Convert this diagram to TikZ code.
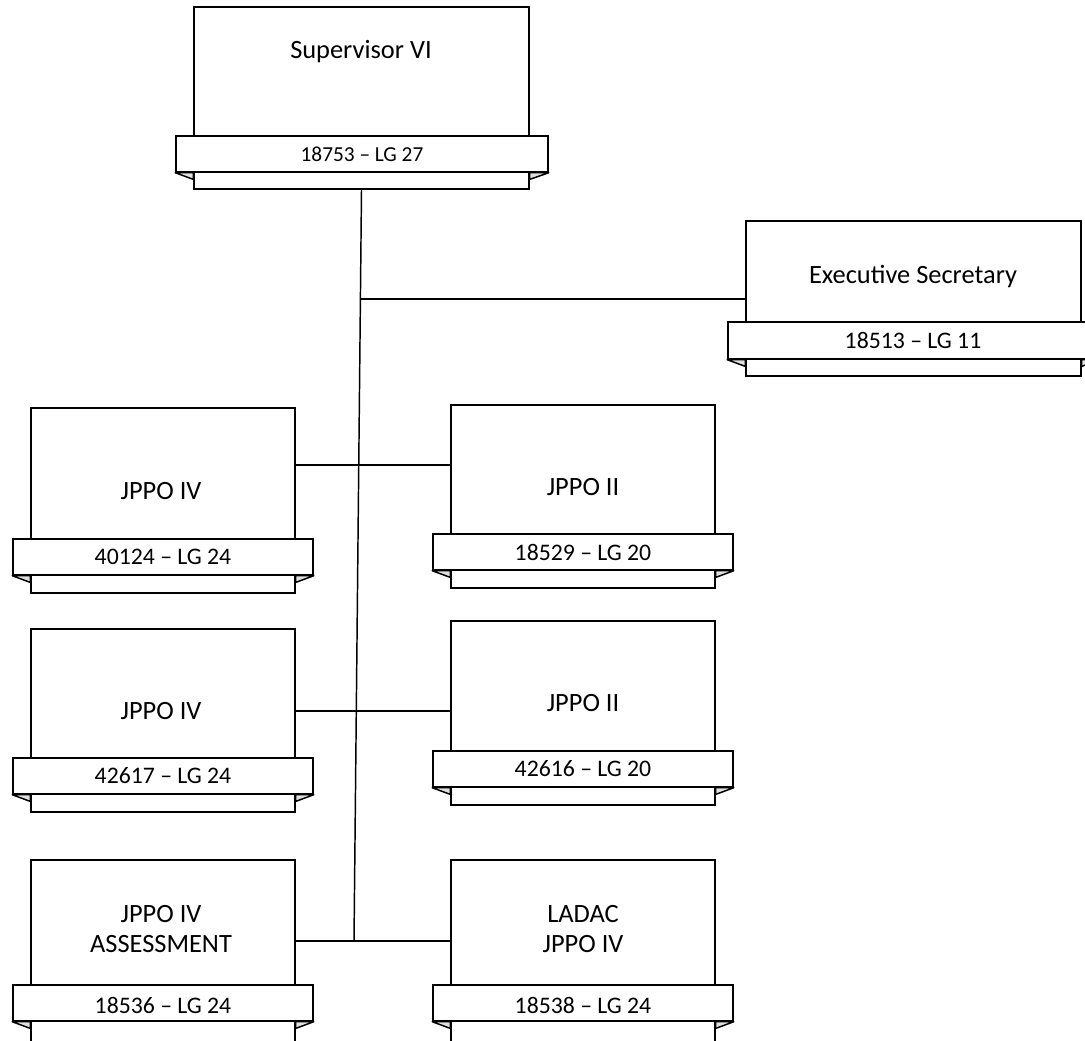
\documentclass[tikz,border=0pt]{standalone}
\usepackage{fontspec}
\setmainfont{Carlito}
\usetikzlibrary{fit}
\tikzset{
  unitbox/.style={draw, fill=white, inner sep=0pt, line width=1.1pt},
  bandbox/.style={draw, fill=white, inner sep=0pt, line width=1.1pt},
  fold/.style={draw, fill=gray!25, line width=1.1pt, line join=round},
  title/.style={font=\fontsize{19.8}{22.5}\selectfont, align=center, inner sep=0pt},
  bandtext/.style={font=\fontsize{17.8}{20}\selectfont, inner sep=0pt},
  smallband/.style={font=\fontsize{16}{19}\selectfont, inner sep=0pt},
  link/.style={line width=1.1pt}
}
% \orgunit{name}{L}{T}{R}{B}{bandL}{bandT}{bandR}{bandB}
\newcommand\orgunit[9]{%
  \node[unitbox, fit={(#2,#3)(#4,#5)}] (#1) {};
  \node[bandbox, fit={(#6,#7)(#8,#9)}] (#1band) {};
  \draw[fold] (#1band.south west) -- (#1.west |- #1band.south) -- ([yshift=-5pt]#1.west |- #1band.south) -- cycle;
  \draw[fold] (#1band.south east) -- (#1.east |- #1band.south) -- ([yshift=-5pt]#1.east |- #1band.south) -- cycle;
}
\begin{document}
\begin{tikzpicture}[x=0.75pt, y=-0.75pt]
\useasboundingbox (0,0) rectangle (1085,1041);
\clip (0,0) rectangle (1085,1041);
\fill[white] (0,0) rectangle (1085,1041);

\coordinate (jtop) at (361,299);
\coordinate (j1) at (358,465);
\coordinate (j2) at (357,711);
\coordinate (j3) at (354,941);

% units
\orgunit{sup}{194}{7}{529}{189}{176}{136}{548}{172}
\orgunit{ex}{746}{221}{1081}{376}{728}{322}{1100}{359}
\orgunit{aa}{31}{408}{295}{593}{13}{539}{313}{575}
\orgunit{ba}{451}{405}{715}{588}{433}{534}{733}{570}
\orgunit{ab}{31}{629}{295}{812}{13}{758}{313}{794}
\orgunit{bb}{451}{621}{715}{805}{433}{751}{733}{787}
\orgunit{ac}{31}{860}{295}{1080}{13}{985}{313}{1021}
\orgunit{bc}{451}{860}{715}{1080}{433}{985}{733}{1021}

% connectors
\draw[link] (sup.south) -- (j3);
\draw[link] (jtop) -- (ex.west |- jtop);
\draw[link] (aa.east |- j1) -- (ba.west |- j1);
\draw[link] (ab.east |- j2) -- (bb.west |- j2);
\draw[link] (ac.east |- j3) -- (bc.west |- j3);

% titles
\node[title] (tsup) at (361,52) {Supervisor VI};
\node[title] (tex) at (913,277) {Executive Secretary};
\node[title] (taa) at (161,491) {JPPO IV};
\node[title] (tba) at (583,487) {JPPO II};
\node[title] (tab) at (161,711) {JPPO IV};
\node[title] (tbb) at (583,703) {JPPO II};
\node[title] (tac) at (161,929) {JPPO IV\\ASSESSMENT};
\node[title] (tbc) at (583,929) {LADAC\\JPPO IV};

% band labels
\node[smallband] at (362,154) {18753 – LG 27};
\node[bandtext] at (913,340) {18513 – LG 11};
\node[bandtext] at (163,557) {40124 – LG 24};
\node[bandtext] at (583,552) {18529 – LG 20};
\node[bandtext] at (163,776) {42617 – LG 24};
\node[bandtext] at (583,769) {42616 – LG 20};
\node[bandtext] at (163,1005) {18536 – LG 24};
\node[bandtext] at (583,1005) {18538 – LG 24};
\end{tikzpicture}
\end{document}
